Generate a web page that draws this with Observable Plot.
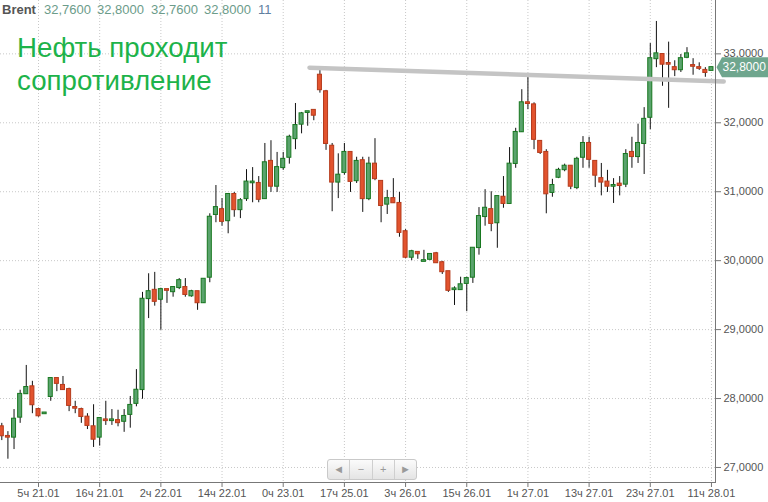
<!DOCTYPE html>
<html><head><meta charset="utf-8">
<script src="https://cdn.jsdelivr.net/npm/d3@7"></script>
<script src="https://cdn.jsdelivr.net/npm/@observablehq/plot@0.6"></script>
<style>
body{margin:0;background:#fff;}
#wrap{position:relative;width:768px;height:502px;overflow:hidden;font-family:"Liberation Sans",Arial,sans-serif;}
.h{position:absolute;top:2px;font-size:13px;line-height:16px;white-space:nowrap;}
.t{position:absolute;left:17px;font-size:27.7px;line-height:33px;color:#1db34a;white-space:nowrap;}
#nav{position:absolute;left:327px;top:459px;width:88px;height:19px;border:1px solid #c9c9c9;border-radius:3px;background:linear-gradient(#fbfbfb,#e4e4e4);display:flex;}
#nav div{flex:1;text-align:center;font-size:11px;line-height:19px;color:#9a9a9a;border-left:1px solid #cfcfcf;}
#nav div:first-child{border-left:none;}
</style></head><body><div id="wrap"></div>
<script>
// OHLC, hourly candles (index = position)
const opens = [27.59,27.45,27.44,27.73,28.07,28.17,27.84,27.78,28.03,28.29,
28.19,28.13,27.87,27.84,27.73,27.59,27.44,27.69,27.68,27.68,
27.67,27.77,27.93,28.13,29.45,29.57,29.44,29.58,29.55,29.61,
29.61,29.49,29.55,29.39,29.76,30.67,30.74,30.58,30.96,30.74,
30.90,31.13,31.12,30.90,31.44,31.08,31.35,31.50,31.77,31.98,
32.15,32.18,32.69,32.45,31.66,31.14,31.28,31.57,31.16,31.45,
30.90,31.40,31.15,30.82,30.90,30.83,30.42,30.05,30.12,29.99,
30.02,30.10,29.97,29.84,29.58,29.58,29.67,29.76,30.19,30.64,
30.74,30.55,30.92,30.83,31.41,31.87,32.29,32.26,31.73,31.57,
30.99,31.21,31.32,31.37,31.06,31.50,31.70,31.44,31.19,31.14,
31.08,31.11,31.11,31.57,31.51,31.70,32.08,32.93,32.99,32.86,
32.80,32.77,32.95,32.83,32.80,32.76,32.76];
const closes = [27.46,27.44,27.70,28.06,28.16,27.91,27.75,27.79,28.29,28.22,
28.13,27.90,27.86,27.74,27.61,27.41,27.71,27.68,27.69,27.65,
27.74,27.90,28.12,29.44,29.55,29.41,29.58,29.57,29.61,29.71,
29.51,29.55,29.39,29.73,30.63,30.77,30.57,30.96,30.74,30.87,
31.14,31.14,30.89,31.42,31.08,31.35,31.47,31.79,31.96,32.13,
32.16,32.11,32.48,31.70,31.14,31.24,31.57,31.15,31.44,30.90,
31.40,31.19,30.80,30.90,30.84,30.41,30.05,30.13,30.10,30.00,
30.09,29.97,29.84,29.57,29.59,29.65,29.74,30.18,30.64,30.76,
30.54,30.93,30.83,31.40,31.86,32.29,32.28,31.76,31.57,30.97,
31.09,31.31,31.37,31.08,31.47,31.70,31.47,31.24,31.14,31.08,
31.09,31.09,31.54,31.51,31.70,32.05,32.93,33.00,32.85,32.85,
32.77,32.93,33.00,32.82,32.79,32.73,32.80];
const highs = [27.64,27.52,27.84,28.12,28.48,28.25,27.86,27.79,28.29,28.29,
28.32,28.15,27.96,27.86,27.78,27.91,27.71,27.96,27.84,27.83,
27.84,28.03,28.42,29.54,29.81,29.83,29.60,29.58,29.62,29.74,
29.74,29.57,29.55,29.73,30.68,31.09,30.90,30.97,30.99,30.90,
31.32,31.35,31.22,31.70,31.74,31.57,31.57,31.82,32.28,32.15,
32.16,32.18,32.76,32.47,31.70,31.55,31.70,31.57,31.50,31.50,
31.50,31.77,31.15,31.02,31.19,30.99,30.45,30.15,30.12,30.15,
30.10,30.12,29.99,29.84,29.62,29.76,29.76,30.18,30.77,31.03,
31.00,30.93,31.22,31.64,31.92,32.48,32.66,32.29,31.74,31.61,
31.18,31.34,31.40,31.37,31.50,31.80,31.79,31.44,31.41,31.31,
31.19,31.22,31.61,31.79,31.98,32.22,33.15,33.47,32.99,33.17,
32.90,32.99,33.09,32.93,32.87,32.80,32.80];
const lows = [27.39,27.12,27.26,27.64,28.06,27.78,27.73,27.78,27.96,28.10,
28.12,27.81,27.78,27.64,27.55,27.29,27.31,27.61,27.61,27.59,
27.51,27.57,27.88,27.99,29.16,29.34,28.99,29.38,29.47,29.58,
29.47,29.47,29.28,29.38,29.68,30.55,30.50,30.39,30.63,30.61,
30.86,30.84,30.84,30.89,30.99,30.99,31.31,31.40,31.61,31.84,
31.95,32.03,32.43,31.60,30.71,30.90,31.24,30.99,31.12,30.70,
30.87,31.16,30.55,30.67,30.83,30.34,30.03,30.00,30.02,29.99,
30.00,29.96,29.80,29.54,29.35,29.57,29.26,29.67,30.08,30.50,
30.42,30.18,30.76,30.82,31.34,31.86,32.19,31.61,31.54,30.68,
30.92,31.19,31.29,31.03,31.03,31.34,31.34,31.06,30.94,30.99,
30.83,30.94,31.06,31.34,31.41,31.25,31.90,32.80,32.53,32.21,
32.67,32.73,32.93,32.69,32.76,32.66,32.76];

const tickIdx = [6,16,26,36,46,56,66,76,86,96,106,116];
const tickLabels = ["5ч 21.01","16ч 21.01","2ч 22.01","14ч 22.01","0ч 23.01","17ч 25.01","3ч 26.01","15ч 26.01","1ч 27.01","13ч 27.01","23ч 27.01","11ч 28.01"];
const yTicks = [27,28,29,30,31,32,33];
// hand-drawn resistance line (index, price)
const trendIdx = [50.3, 118];
const trendPrice = [32.80, 32.60];
const header = {name:"Brent", values:["32,7600","32,8000","32,7600","32,8000"], count:"11"};
const titleLines = ["Нефть проходит","сопротивление"];

const data = opens.map((o,i)=>({i, o, h:highs[i], l:lows[i], c:closes[i], up: closes[i] >= o}));
const trend = trendIdx.map((x,k)=>({x, y:trendPrice[k]}));
const fmt = d => d.toFixed(4).replace(".", ",");

const plot = Plot.plot({
  width: 768, height: 502,
  marginLeft: 0, marginRight: 53, marginTop: 0, marginBottom: 20,
  style: {fontFamily: '"Liberation Sans", Arial, sans-serif', fontSize: "11px", color: "#555", background: "transparent"},
  x: {domain: [-0.2125, 116.66]},
  y: {domain: [26.782, 33.774]},
  marks: [
    Plot.gridY(yTicks, {stroke: "#c8c8c8", strokeOpacity: 1, strokeDasharray: "1,2"}),
    Plot.gridX(tickIdx, {stroke: "#c8c8c8", strokeOpacity: 1, strokeDasharray: "1,2"}),
    Plot.ruleX(data, {x: "i", y1: "l", y2: "h", stroke: "#111", strokeWidth: 1}),
    Plot.rect(data, {x1: d => d.i - 0.33, x2: d => d.i + 0.33, y1: "o", y2: "c",
      fill: d => d.up ? "#5aa36d" : "#e2532e",
      stroke: d => d.up ? "#17771f" : "#b53a1b",
      strokeWidth: 1, insetTop: -0.5, insetBottom: -0.5}),
    Plot.line(trend, {x: "x", y: "y", stroke: "#c4c4c4", strokeWidth: 4.5, strokeLinecap: "round"}),
    Plot.frame({anchor: "right", stroke: "#777"}),
    Plot.frame({anchor: "bottom", stroke: "#777"}),
    Plot.axisY(yTicks, {anchor: "right", tickSize: 5, tickPadding: 3, tickFormat: fmt, stroke: "#777", fill: "#555"}),
    Plot.axisX(tickIdx, {tickSize: 5, tickPadding: 2, tickFormat: d => tickLabels[tickIdx.indexOf(d)], stroke: "#777", fill: "#555"})
  ]
});
const wrap = document.getElementById("wrap");
wrap.appendChild(plot);

// last price marker on the axis
const last = closes[closes.length - 1];
const ly = plot.scale("y").apply(last);
const svg = d3.select(plot);
const xr = plot.scale("x").range[1];
const g = svg.append("g");
g.append("path").attr("d", `M${xr+1.5},${ly} L${xr+7},${ly-10} H768 V${ly+10} H${xr+7} Z`).attr("fill", "#6fa68e");
g.append("text").attr("x", xr + 7.5).attr("y", ly).attr("dy", "0.36em").attr("text-anchor", "start")
  .attr("fill", "#fff").attr("font-size", 12).text(fmt(last));

// header
const hdrPos = [2, 44, 97, 151, 204, 258];
const hdrTexts = [header.name, ...header.values, header.count];
hdrTexts.forEach((t, k) => {
  const s = document.createElement("div");
  s.className = "h";
  s.style.left = hdrPos[k] + "px";
  s.style.color = k === 0 ? "#555" : (k === 5 ? "#5f7f9f" : "#6c9c8a");
  if (k === 0) s.style.fontWeight = "bold";
  s.textContent = t;
  wrap.appendChild(s);
});
titleLines.forEach((t, k) => {
  const s = document.createElement("div");
  s.className = "t";
  s.style.top = (30.8 + 33 * k) + "px";
  s.textContent = t;
  wrap.appendChild(s);
});
// navigation buttons
const nav = document.createElement("div");
nav.id = "nav";
["◄", "−", "+", "►"].forEach(t => { const b = document.createElement("div"); b.textContent = t; nav.appendChild(b); });
wrap.appendChild(nav);
</script></body></html>
